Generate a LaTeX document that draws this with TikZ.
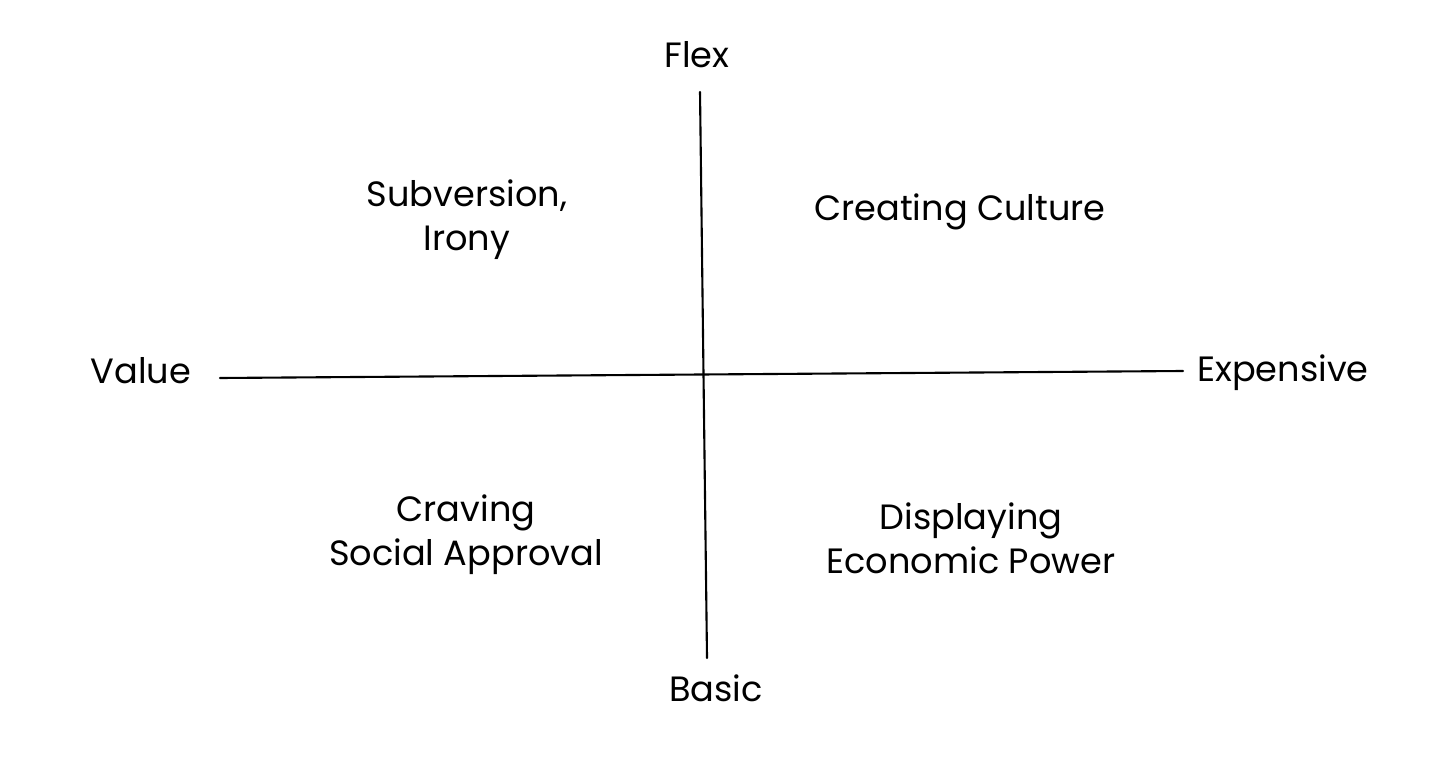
\documentclass[tikz,border=0pt]{standalone}
\usepackage{fontspec}
\setmainfont{Poppins}
\begin{document}
\begin{tikzpicture}[
    axis/.style={black, line width=0.6pt, line cap=round},
    axislabel/.style={font=\fontsize{10}{12.5}\selectfont},
    quadrant/.style={align=center, font=\fontsize{10}{12.5}\selectfont}
]
    \useasboundingbox (0,0) rectangle (14.56,7.59);
    % Axis labels
    \node[axislabel] (flex) at (6.97,7.04) {Flex};
    \node[axislabel] (basic) at (7.16,0.71) {Basic};
    \node[axislabel] (value) at (1.41,3.88) {Value};
    \node[axislabel] (expensive) at (12.83,3.86) {Expensive};
    
    % Axes
    \coordinate (top) at (7.00,6.67);
    \coordinate (bottom) at (7.07,1.01);
    \coordinate (left) at (2.20,3.81);
    \coordinate (right) at (11.83,3.88);
    \draw[axis] (top) -- (bottom);
    \draw[axis] (left) -- (right);
    
    % Quadrants
    \node[quadrant] (subversion) at (4.67,5.39) {Subversion,\\Irony};
    \node[quadrant] (culture) at (9.60,5.47) {Creating Culture};
    \node[quadrant] (approval) at (4.66,2.24) {Craving\\Social Approval};
    \node[quadrant] (power) at (9.71,2.21) {Displaying\\Economic Power};
\end{tikzpicture}
\end{document}
